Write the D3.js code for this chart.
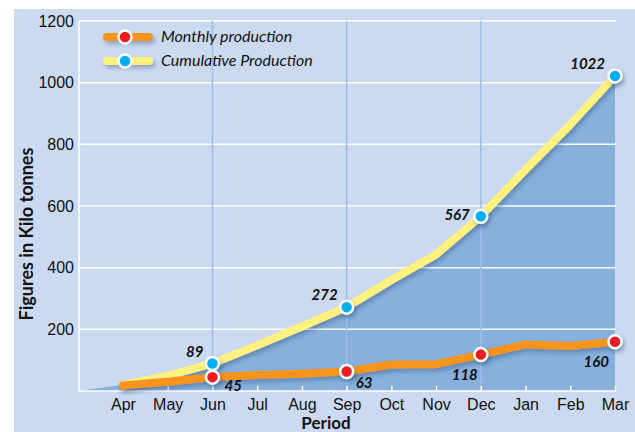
<!DOCTYPE html>
<html>
<head>
<meta charset="utf-8">
<script src="https://cdn.jsdelivr.net/npm/d3@7"></script>
<style>
  body { margin: 0; background: #fff; }
  svg { display: block; font-family: Lato, "Open Sans", sans-serif; }
</style>
</head>
<body>
<svg id="chart" width="635" height="432"></svg>
<script>
// data
const months = ["Apr","May","Jun","Jul","Aug","Sep","Oct","Nov","Dec","Jan","Feb","Mar"];
const monthly = [18, 30, 45, 52, 56, 63, 86, 87, 118, 151, 146, 160];
const cumulative = [20, 50, 89, 148, 209, 272, 360, 443, 567, 718, 864, 1022];
const yTicks = [200, 400, 600, 800, 1000, 1200];
const labelled = [2, 5, 8, 11];   // points that carry a marker + value
const seriesNames = ["Monthly production", "Cumulative Production"];

const svg = d3.select("#chart");
const W = 635, H = 432;

// panel background
svg.append("rect").attr("x", 14).attr("y", 9).attr("width", W - 14).attr("height", H - 9)
  .attr("fill", "#cbdaf0");

const defs = svg.append("defs");
const f = defs.append("filter").attr("id", "shadow")
  .attr("filterUnits", "userSpaceOnUse")
  .attr("x", 0).attr("y", 0).attr("width", W).attr("height", H);
f.append("feDropShadow").attr("dx", 2).attr("dy", 3).attr("stdDeviation", 2)
  .attr("flood-color", "#1c3a66").attr("flood-opacity", 0.35);

const plotLeft = 79, plotRight = 616;
const x = d3.scalePoint().domain(months).range([123, 615]);
const y = d3.scaleLinear().domain([0, 1200]).range([391, 21]);

// area under the cumulative curve (starts one step left of Apr at zero)
const areaPts = [{x: x(months[0]) - x.step(), v: 0}]
  .concat(months.map((m, i) => ({x: x(m), v: cumulative[i]})));
svg.append("path")
  .datum(areaPts)
  .attr("fill", "#87b0dd")
  .attr("d", d3.area().x(d => d.x).y0(y(0)).y1(d => y(d.v)));

// horizontal grid
svg.append("g").selectAll("line").data(yTicks).join("line")
  .attr("x1", plotLeft).attr("x2", plotRight)
  .attr("y1", d => y(d)).attr("y2", d => y(d))
  .attr("stroke", "#fff").attr("stroke-width", 1.5);

// vertical quarter lines
svg.append("g").selectAll("line").data(labelled.slice(0, 3)).join("line")
  .attr("x1", i => x(months[i])).attr("x2", i => x(months[i]))
  .attr("y1", y(1200)).attr("y2", y(0))
  .attr("stroke", "#9dbde6").attr("stroke-width", 1.5);

// axes
const yAxis = svg.append("g").attr("transform", `translate(${plotLeft},0)`)
  .call(d3.axisLeft(y).tickValues(yTicks).tickSize(0).tickPadding(5).tickFormat(d3.format("d")));
yAxis.select(".domain").remove();
yAxis.selectAll("text").attr("font-size", 16).attr("fill", "#111");
svg.append("line").attr("x1", plotLeft).attr("x2", plotLeft).attr("y1", y(1200)).attr("y2", y(0))
  .attr("stroke", "#fff").attr("stroke-width", 1.5);

const xAxis = svg.append("g").attr("transform", `translate(0,${y(0)})`)
  .call(d3.axisBottom(x).tickSize(-5).tickPadding(8));
xAxis.select(".domain").remove();
xAxis.selectAll("line").attr("stroke", "#fff").attr("stroke-width", 1.5);
xAxis.selectAll("text").attr("font-size", 16).attr("fill", "#111");
svg.append("line").attr("x1", plotLeft).attr("x2", plotRight).attr("y1", y(0)).attr("y2", y(0))
  .attr("stroke", "#fff").attr("stroke-width", 1.5);

// axis titles
svg.append("text").attr("x", 326).attr("y", 429).attr("text-anchor", "middle")
  .attr("font-size", 17).attr("font-weight", "bold").attr("fill", "#111").text("Period");
svg.append("text").attr("transform", "translate(33,234) rotate(-90)").attr("text-anchor", "middle")
  .attr("font-size", 18).attr("font-weight", "bold").attr("fill", "#111").text("Figures in Kilo tonnes");

// lines
const line = d3.line().x((d, i) => x(months[i])).y(d => y(d)).curve(d3.curveLinear);
const series = [
  {vals: cumulative, color: "#fff281", dot: "#00aeef"},
  {vals: monthly, color: "#f7941d", dot: "#ed1c24"}
];
series.forEach(s => {
  svg.append("path").datum(s.vals)
    .attr("fill", "none").attr("stroke", s.color).attr("stroke-width", 8)
    .attr("stroke-linecap", "round").attr("stroke-linejoin", "round")
    .attr("filter", "url(#shadow)")
    .attr("d", line);
});
series.forEach(s => {
  svg.append("g").selectAll("circle").data(labelled).join("circle")
    .attr("cx", i => x(months[i])).attr("cy", i => y(s.vals[i]))
    .attr("r", 6.5).attr("fill", s.dot).attr("stroke", "#fff").attr("stroke-width", 2.5)
    .attr("filter", "url(#shadow)");
});

// value labels: offsets per labelled point
const cumOff = [[-9, -7, "end"], [-9, -7, "end"], [-11, 4, "end"], [-10, -7, "end"]];
const monOff = [[12, 14, "start"], [9, 16, "start"], [-3, 25, "end"], [-6, 25, "end"]];
function addLabels(vals, offs) {
  svg.append("g").selectAll("text").data(labelled).join("text")
    .attr("x", (i, k) => x(months[i]) + offs[k][0])
    .attr("y", (i, k) => y(vals[i]) + offs[k][1])
    .attr("text-anchor", (i, k) => offs[k][2])
    .attr("font-size", 15).attr("font-weight", "bold").attr("font-style", "italic")
    .attr("fill", "#111").text(i => vals[i]);
}
addLabels(cumulative, cumOff);
addLabels(monthly, monOff);

// legend
const legend = svg.append("g");
[["#f7941d", "#ed1c24"], ["#fff281", "#00aeef"]].forEach((c, k) => {
  const ly = 37 + k * 24;
  legend.append("line").attr("x1", 107).attr("x2", 149).attr("y1", ly).attr("y2", ly)
    .attr("stroke", c[0]).attr("stroke-width", 8).attr("stroke-linecap", "round")
    .attr("filter", "url(#shadow)");
  legend.append("circle").attr("cx", 125).attr("cy", ly).attr("r", 6.5)
    .attr("fill", c[1]).attr("stroke", "#fff").attr("stroke-width", 2.5);
  legend.append("text").attr("x", 161).attr("y", ly + 5)
    .attr("font-size", 16).attr("font-style", "italic").attr("fill", "#111")
    .text(seriesNames[k]);
});
</script>
</body>
</html>
